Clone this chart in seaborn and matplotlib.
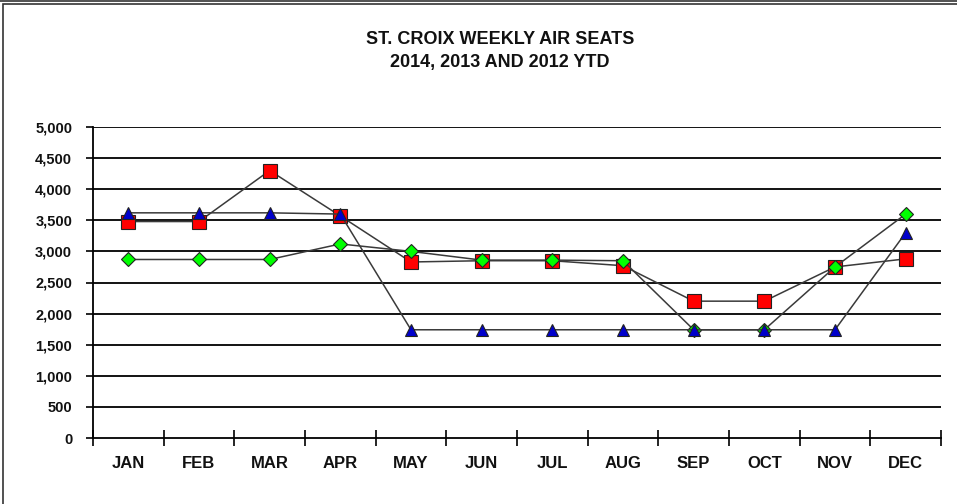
import matplotlib
matplotlib.use("Agg")
import matplotlib.pyplot as plt
from matplotlib.patches import Rectangle
from matplotlib.lines import Line2D
from matplotlib.ticker import FuncFormatter, FixedLocator
import numpy as np
import pandas as pd
import seaborn as sns

months = ["JAN", "FEB", "MAR", "APR", "MAY", "JUN", "JUL", "AUG", "SEP", "OCT", "NOV", "DEC"]
# (no legend in the original)
seats_red = [3480, 3480, 4300, 3570, 2830, 2850, 2850, 2770, 2200, 2200, 2750, 2880]
seats_green = [2870, 2870, 2870, 3120, 3000, 2860, 2860, 2850, 1740, 1740, 2750, 3600]
seats_blue = [3620, 3620, 3620, 3600, 1740, 1740, 1740, 1740, 1740, 1740, 1740, 3300]

sns.set_theme(style="white")
plt.rcParams["font.family"] = ["Liberation Sans", "DejaVu Sans"]

fig = plt.figure(figsize=(9.57, 5.04), dpi=100)
ax = fig.add_axes([93/957, 1-438/504, (941-93)/957, (438-127)/504])

pos = np.arange(len(months))

# gridlines first
for v in range(500, 5001, 500):
    ax.axhline(v, color="black", lw=1.3, zorder=0)

series = [
    (seats_red, "s", "#ff0000", 9.5),
    (seats_green, "D", "#00ff00", 7),
    (seats_blue, "^", "#0000cc", 9),
]
for i, (vals, mk, col, ms) in enumerate(series):
    sns.lineplot(x=pos, y=vals, ax=ax, color="#3a3a3a", lw=1.1,
                 marker=mk, markerfacecolor=col, markeredgecolor="#222222",
                 markeredgewidth=0.8, markersize=ms, zorder=2 + i)

ax.set_xlim(-0.5, 11.5)
ax.set_ylim(0, 5000)
ax.set_yticks(range(0, 5001, 500))
ax.yaxis.set_major_formatter(FuncFormatter(lambda v, p: f"{int(v):,}"))
ax.set_xticks(pos)
ax.set_xticklabels(months)
ax.xaxis.set_minor_locator(FixedLocator(np.arange(-0.5, 12, 1)))
ax.tick_params(axis="x", which="major", length=0, pad=13)
ax.tick_params(axis="x", which="minor", length=12, width=1.2, color="black",
               direction="inout", bottom=True)
ax.tick_params(axis="y", length=5, width=1.2, color="black", left=True, pad=10)
for lab in ax.get_xticklabels():
    lab.set_fontweight("bold")
    lab.set_fontsize(12)
    lab.set_color("#111111")
for lab in ax.get_yticklabels():
    lab.set_fontweight("bold")
    lab.set_fontsize(10.5)
    lab.set_color("#111111")

for s in ["top", "right"]:
    ax.spines[s].set_visible(False)
for s in ["left", "bottom"]:
    ax.spines[s].set_color("black")
    ax.spines[s].set_linewidth(1.3)
ax.set_xlabel("")
ax.set_ylabel("")
ax.patch.set_alpha(0)

fig.text(500/957, 1-40/504, "ST. CROIX WEEKLY AIR SEATS", ha="center", va="center",
         fontsize=13, fontweight="bold", color="#111111")
fig.text(500/957, 1-62/504, "2014, 2013 AND 2012 YTD", ha="center", va="center",
         fontsize=13, fontweight="bold", color="#111111")

# outer frame (top and left edges visible)
fig.add_artist(Line2D([0, 1], [1-1/504, 1-1/504], color="#333333", lw=1.2))
fig.add_artist(Rectangle((3/957, -0.1), 1.2, 1.1 - 4/504, fill=False,
                         edgecolor="#333333", lw=1.2))

fig.savefig("out.png", dpi=100)
